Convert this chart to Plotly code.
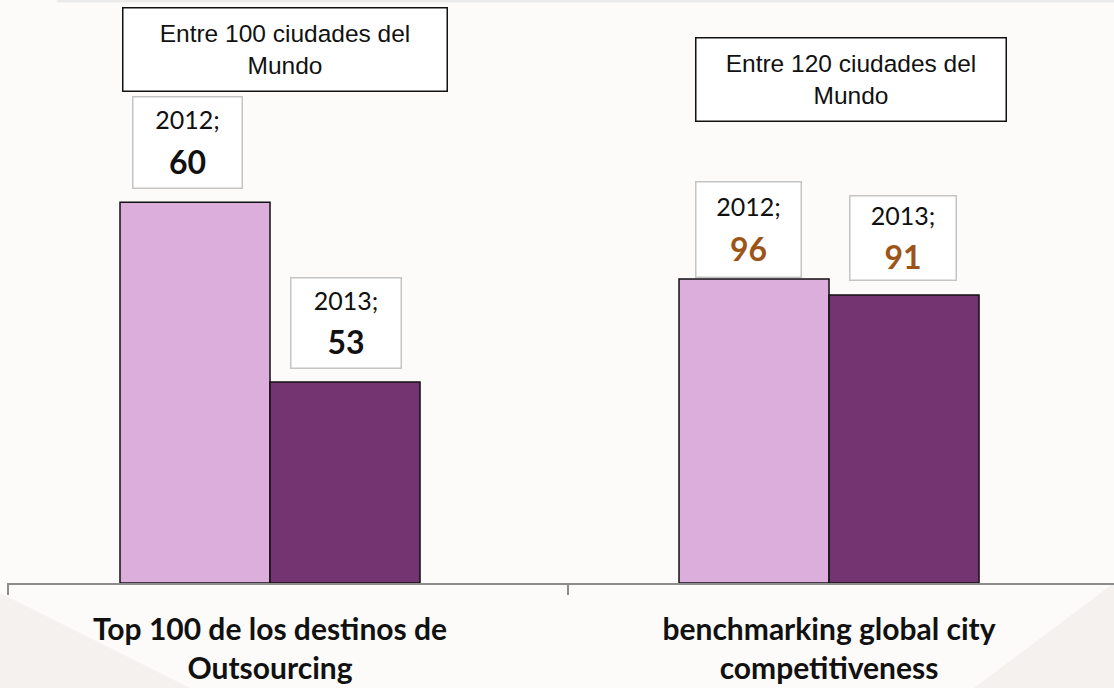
import plotly.graph_objects as go

# ---------------- data ----------------
categories = ["Top 100 de los destinos de<br>Outsourcing",
              "benchmarking global city<br>competitiveness"]
years = ["2012", "2013"]
rank_2012 = [60, 96]
rank_2013 = [53, 91]
# visual bar heights (arbitrary units)
height_2012 = [100.6, 80.3]
height_2013 = [53.1, 76.1]
headings = ["Entre 100 ciudades del<br>Mundo", "Entre 120 ciudades del<br>Mundo"]

x_pos = [0, 1]
LIGHT = "#dcaedc"
DARK = "#743472"
BG = "#fcfbfa"

fig = go.Figure()
fig.add_trace(go.Bar(x=x_pos, y=height_2012, name=years[0],
                     marker=dict(color=LIGHT, line=dict(color="#111111", width=1.5))))
fig.add_trace(go.Bar(x=x_pos, y=height_2013, name=years[1],
                     marker=dict(color=DARK, line=dict(color="#111111", width=1.5))))

# data label boxes
num_colors = ["#111111", "#9c5418"]
xshifts = {("2012", 0): -83, ("2013", 0): 76, ("2012", 1): -81, ("2013", 1): 74}
yshifts = {("2012", 0): 13, ("2013", 0): 13, ("2012", 1): 1, ("2013", 1): 14}
sizes = {("2012", 0): (108, 90), ("2013", 0): (109, 89), ("2012", 1): (104, 94), ("2013", 1): (105, 83)}
for yr, ranks, heights in [("2012", rank_2012, height_2012), ("2013", rank_2013, height_2013)]:
    for i in x_pos:
        w, h = sizes[(yr, i)]
        fig.add_annotation(
            x=i, y=heights[i], xref="x", yref="y",
            text=(f"<span style='font-size:25px'>{yr};</span><br>"
                  f"<b><span style='font-size:32px;color:{num_colors[i]}'>{ranks[i]}</span></b>"),
            showarrow=False, xanchor="center", yanchor="bottom",
            xshift=xshifts[(yr, i)], yshift=yshifts[(yr, i)],
            width=w, height=h, borderpad=0,
            bgcolor="#ffffff", bordercolor="#c4c4c4", borderwidth=1.5,
            font=dict(family="Lato", size=34, color="#111111"),
            align="center", valign="middle",
        )

# heading boxes
head_y = [1 - 49 / 583, 1 - 79 / 583]
head_xshift = [14.5, 21.5]
head_w = [323, 309]
for i in x_pos:
    fig.add_annotation(
        x=i, y=head_y[i], xref="x", yref="paper",
        text=headings[i], showarrow=False,
        xanchor="center", yanchor="middle", xshift=head_xshift[i],
        width=head_w[i], height=82, borderpad=0,
        bgcolor="#ffffff", bordercolor="#111111", borderwidth=1.5,
        font=dict(family="Liberation Sans", size=24.5, color="#111111"),
        align="center", valign="middle",
    )

# faint background decorations
shapes = [
    dict(type="path", xref="paper", yref="paper", layer="below",
         path="M -0.0064,-0.0172 L 0.1653,-0.1801 L -0.0064,-0.1801 Z",
         fillcolor="#f4f1ef", line=dict(width=0)),
    dict(type="path", xref="paper", yref="paper", layer="below",
         path="M 0.8735,-0.1801 L 1.0,0 L 1.0,-0.1801 Z",
         fillcolor="#f4f1ef", line=dict(width=0)),
    dict(type="line", xref="paper", yref="paper", layer="below",
         x0=0.045, x1=1.0, y0=1 - 1.2 / 583, y1=1 - 1.2 / 583,
         line=dict(color="#ebebeb", width=2.5)),
]

fig.update_layout(
    width=1114, height=688,
    margin=dict(l=7, r=0, t=0, b=105),
    paper_bgcolor=BG, plot_bgcolor="rgba(0,0,0,0)",
    barmode="group", bargap=0.4633, bargroupgap=0,
    showlegend=False,
    shapes=shapes,
    xaxis=dict(
        range=[-0.4705, 1.5098],
        tickmode="array", tickvals=x_pos, ticktext=categories,
        ticks="", showgrid=False, zeroline=False,
        showline=True, linecolor="#8c8c8c", linewidth=2,
        tickfont=dict(family="Lato", size=30, color="#111111", weight="bold"),
        ticklabelstandoff=19,
        minor=dict(tickmode="array", tickvals=[-0.4687, 0.5331], ticks="outside",
                   ticklen=10, tickwidth=2, tickcolor="#8c8c8c", showgrid=False),
    ),
    yaxis=dict(range=[0, 154], visible=False, showgrid=False, zeroline=False),
)

fig.write_html("out.html",
               config={"displayModeBar": False},
               post_script="document.body.style.margin='0';document.body.style.background='#fcfbfa';")
